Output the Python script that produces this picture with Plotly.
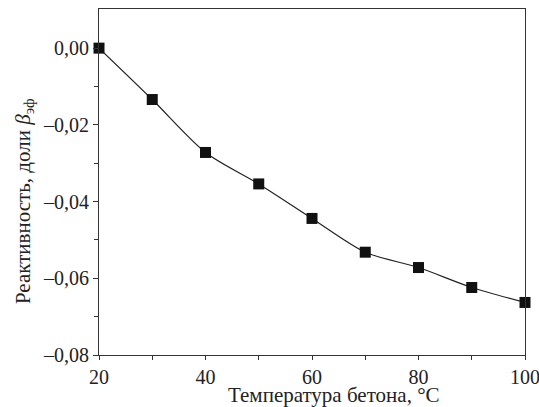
import plotly.graph_objects as go

temps = [20, 30, 40, 50, 60, 70, 80, 90, 100]
reactivity = [0.0, -0.0134, -0.0272, -0.0354, -0.0444, -0.0532, -0.0572, -0.0624, -0.0663]
x_ticks = [20, 40, 60, 80, 100]
y_ticks = [0.0, -0.02, -0.04, -0.06, -0.08]
y_labels = ["0,00", "\u20130,02", "\u20130,04", "\u20130,06", "\u20130,08"]
x_title = "Температура бетона, °C"
y_title = "Реактивность, доли <i>β</i><sub>эф</sub>"

font = "'Liberation Serif', 'Times New Roman', serif"

fig = go.Figure()
fig.add_trace(go.Scatter(
    x=temps, y=reactivity, mode="lines+markers",
    line=dict(color="#222", width=1.2, shape="spline", smoothing=0.8),
    marker=dict(symbol="square", size=11, color="#111"),
    cliponaxis=False,
))

fig.update_layout(
    width=539, height=407,
    margin=dict(l=99, r=14, t=9, b=52, autoexpand=False),
    paper_bgcolor="white", plot_bgcolor="white",
    showlegend=False,
    font=dict(family=font, size=20, color="#222"),
)
fig.update_xaxes(
    range=[20, 100], tickvals=x_ticks, ticks="outside", ticklen=4, tickwidth=1,
    tickcolor="#333", showline=True, linecolor="#333", linewidth=1, mirror=True,
    showgrid=False, zeroline=False, automargin=False, ticklabeloverflow="allow",
    tickfont=dict(family=font, size=20),
    minor=dict(tickvals=[30, 50, 70, 90], ticks="outside", ticklen=4, tickcolor="#333"),
)
fig.update_yaxes(
    range=[-0.08, 0.0102], tickvals=y_ticks, ticktext=y_labels, ticks="outside",
    ticklen=5, tickwidth=1, tickcolor="#333", showline=True, linecolor="#333",
    linewidth=1, mirror=True, showgrid=False, zeroline=False, automargin=False,
    ticklabeloverflow="allow",
    tickfont=dict(family=font, size=20),
    minor=dict(tickvals=[-0.01, -0.03, -0.05, -0.07], ticks="outside", ticklen=4, tickcolor="#333"),
)
fig.add_annotation(
    text=x_title, xref="paper", yref="paper", x=0.552, y=-0.079,
    xanchor="center", yanchor="top", showarrow=False, borderpad=0,
    font=dict(family=font, size=21, color="#222"),
)
fig.add_annotation(
    text=y_title, xref="paper", yref="paper", x=-0.176, y=0.445,
    xanchor="center", yanchor="middle", textangle=-90, showarrow=False,
    font=dict(family=font, size=21, color="#222"),
)

fig.write_html("out.html", config={"displayModeBar": False})
with open("out.html", encoding="utf-8") as f:
    html = f.read()
html = html.replace("<body>", '<body style="margin:0;padding:0;overflow:hidden">', 1)
with open("out.html", "w", encoding="utf-8") as f:
    f.write(html)
